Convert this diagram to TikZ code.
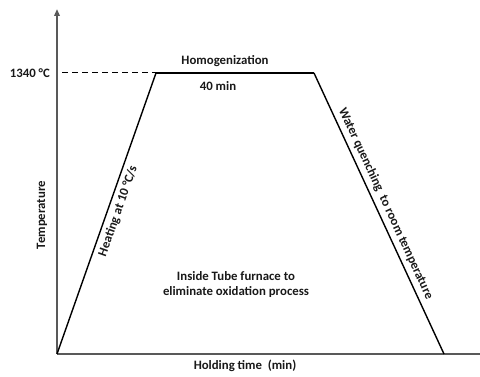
\documentclass[tikz,border=0pt]{standalone}
\usepackage{fontspec}
\setmainfont{Carlito}
\usetikzlibrary{arrows.meta}
\begin{document}
\begin{tikzpicture}[
  >={Triangle[length=7pt, width=5.5pt]},
  x=1pt, y=1pt,
  axis/.style={draw=black!65, line width=1.8pt},
  stage/.style={draw=black, line width=1.4pt},
  lbl/.style={font=\fontsize{12.8}{15}\selectfont\bfseries, text=black!90, inner sep=1pt}
]
  \useasboundingbox (0,0) rectangle (480,377);

  % Key points of the cycle
  \coordinate (origin) at (57,23);
  \coordinate (ytop) at (57,368);
  \coordinate (xend) at (480,23);
  \coordinate (dashstart) at (62,304);
  \coordinate (holdstart) at (156,304);
  \coordinate (holdend) at (314,304);
  \coordinate (quenchend) at (444,23);

  % Axes
  \draw[axis, ->, >={Triangle[length=7pt, width=5.5pt, fill=black]}] (origin) -- (ytop);
  \draw[axis] (origin) -- (xend);
  \node[lbl, rotate=90] (ylabel) at (42,162) {Temperature};
  \node[lbl] (xlabel) at (245,11) {Holding time\ \ (min)};

  % Temperature level
  \draw[line width=1pt, dash pattern=on 6pt off 4pt] (dashstart) -- (holdstart);
  \node[lbl, anchor=east] (templabel) at (51,304) {1340 °C};

  % Heating, holding and quenching
  \draw[stage] (origin) -- (holdstart)
    node[lbl, sloped, below=3pt, pos=0.52] (heatlabel) {Heating at 10 °C/s};
  \draw[stage] (holdstart) -- (holdend);
  \draw[stage] (holdend) -- (quenchend)
    node[lbl, sloped, above=3pt, pos=0.48] (quenchlabel) {Water quenching\ \ to room temperature};
  \node[lbl] (homlabel) at (225,316) {Homogenization};
  \node[lbl] (timelabel) at (218,291) {40 min};

  % Furnace note
  \node[lbl, align=center] (furnace) at (236,92)
    {Inside Tube furnace to\\eliminate oxidation process};
\end{tikzpicture}
\end{document}
